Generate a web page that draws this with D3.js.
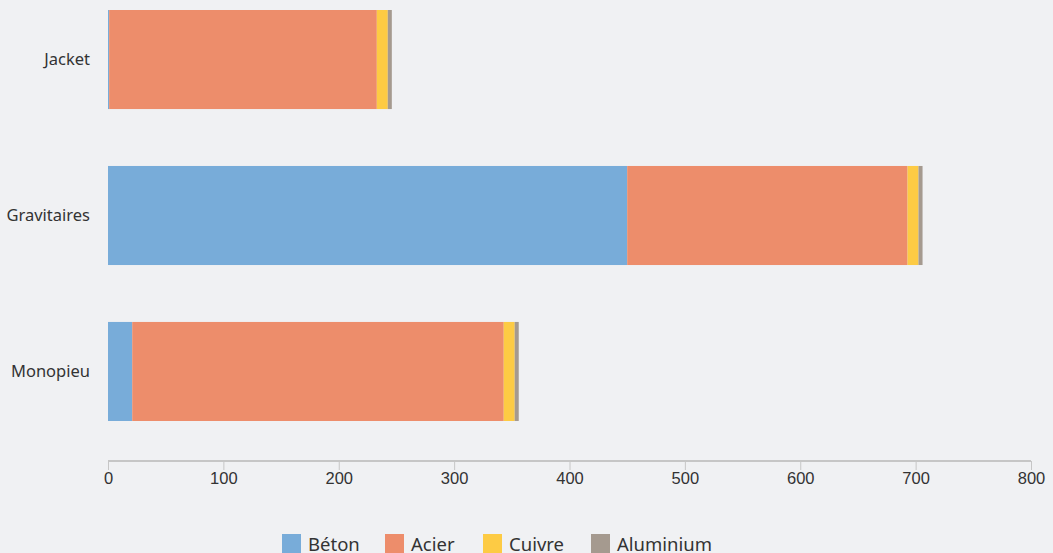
<!DOCTYPE html>
<html>
<head>
<meta charset="utf-8">
<script src="https://cdn.jsdelivr.net/npm/d3@7"></script>
<style>
  html, body { margin: 0; padding: 0; background: #f0f1f3; }
  svg { display: block; font-family: "Noto Sans", "Open Sans", sans-serif; }
  .axis path, .axis line { stroke: #c6c6c6; }
  .axis text { fill: #333; font-size: 16.5px; }
</style>
</head>
<body>
<svg id="chart" width="1053" height="553"></svg>
<script>
    // values
    var categories = ['Jacket', 'Gravitaires', 'Monopieu'];
    var seriesNames = ['Béton', 'Acier', 'Cuivre', 'Aluminium'];
    var seriesColors = ['#78acd9', '#ed8d6b', '#fdcb44', '#a59a8f'];
    var beton = [1, 450, 21];
    var acier = [232, 243, 322];
    var cuivre = [9.5, 9.5, 9.5];
    var aluminium = [3.5, 3.5, 3.5];
    var xTicks = [0, 100, 200, 300, 400, 500, 600, 700, 800];

    var svg = d3.select('#chart');

    var rows = categories.map(function(c, i) {
        return { cat: c, 'Béton': beton[i], 'Acier': acier[i], 'Cuivre': cuivre[i], 'Aluminium': aluminium[i] };
    });

    var stacked = d3.stack().keys(seriesNames)(rows);

    var x = d3.scaleLinear().domain([0, 800]).range([108, 1031]);
    var y = d3.scaleBand().domain(categories).range([10, 421])
        .paddingInner(0.365).paddingOuter(0);
    var color = d3.scaleOrdinal().domain(seriesNames).range(seriesColors);

    svg.append('g')
        .selectAll('g')
            .data(stacked)
        .enter()
            .append('g')
            .attr('fill', function(d) { return color(d.key); })
        .selectAll('rect')
            .data(function(d) { return d; })
        .enter()
            .append('rect')
            .attr('x', function(d) { return x(d[0]); })
            .attr('width', function(d) { return x(d[1]) - x(d[0]); })
            .attr('y', function(d) { return y(d.data.cat); })
            .attr('height', y.bandwidth());

    // x axis
    var xAxis = svg.append('g')
        .attr('class', 'axis')
        .attr('transform', 'translate(0,461)')
        .call(d3.axisBottom(x).tickValues(xTicks).tickSize(9).tickPadding(2).tickFormat(d3.format('d')));
    xAxis.select('.domain').attr('d', 'M108,0H1031').attr('stroke-width', 2);

    // category labels
    svg.append('g')
        .selectAll('text')
            .data(categories)
        .enter()
            .append('text')
            .attr('x', 90)
            .attr('y', function(d) { return y(d) + y.bandwidth() / 2; })
            .attr('dy', '0.35em')
            .attr('text-anchor', 'end')
            .attr('fill', '#333')
            .style('font-size', '16.5px')
            .text(function(d) { return d; });

    // legend
    var legendX = [282, 385, 483, 591];
    var legend = svg.append('g')
        .selectAll('g')
            .data(seriesNames)
        .enter()
            .append('g')
            .attr('transform', function(d, i) { return 'translate(' + legendX[i] + ',534)'; });

    legend.append('rect')
        .attr('width', 19)
        .attr('height', 19)
        .attr('fill', function(d) { return color(d); });

    legend.append('text')
        .attr('x', 26)
        .attr('y', 17)
        .attr('fill', '#333')
        .style('font-size', '18.5px')
        .text(function(d) { return d; });
</script>
</body>
</html>
